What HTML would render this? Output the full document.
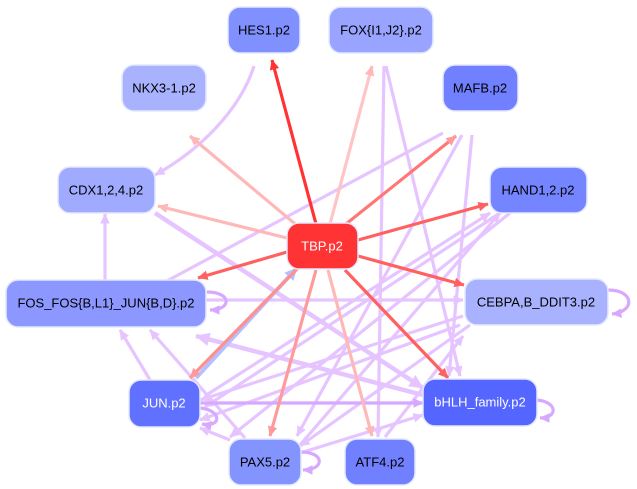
<!DOCTYPE html>
<html><head><style>
html,body{margin:0;padding:0;background:#fff;width:637px;height:489px;overflow:hidden}
svg{display:block}
text{font-family:"Liberation Sans",sans-serif;font-size:13px;text-anchor:middle;dominant-baseline:central}
</style></head><body>
<svg width="637" height="489" viewBox="0 0 637 489">
<defs>
<marker id="r1" markerWidth="3.2" markerHeight="3" refX="3" refY="1.5" orient="auto" markerUnits="strokeWidth"><path d="M0,0L3.2,1.5L0,3z" fill="#ff3333"/></marker>
<marker id="r2" markerWidth="3.2" markerHeight="3" refX="3" refY="1.5" orient="auto" markerUnits="strokeWidth"><path d="M0,0L3.2,1.5L0,3z" fill="#ff6060"/></marker>
<marker id="r3" markerWidth="3.2" markerHeight="3" refX="3" refY="1.5" orient="auto" markerUnits="strokeWidth"><path d="M0,0L3.2,1.5L0,3z" fill="#ff9a9a"/></marker>
<marker id="r4" markerWidth="3.2" markerHeight="3" refX="3" refY="1.5" orient="auto" markerUnits="strokeWidth"><path d="M0,0L3.2,1.5L0,3z" fill="#ffb8b8"/></marker>
<marker id="p1" markerWidth="3.2" markerHeight="3" refX="3" refY="1.5" orient="auto" markerUnits="strokeWidth"><path d="M0,0L3.2,1.5L0,3z" fill="#e6c4ff"/></marker>
<marker id="p2" markerWidth="3.2" markerHeight="3" refX="3" refY="1.5" orient="auto" markerUnits="strokeWidth"><path d="M0,0L3.2,1.5L0,3z" fill="#d8a8ff"/></marker>
<marker id="b1" markerWidth="3.2" markerHeight="3" refX="3" refY="1.5" orient="auto" markerUnits="strokeWidth"><path d="M0,0L3.2,1.5L0,3z" fill="#b4c0ff"/></marker>
</defs>
<g fill="none" stroke-width="3.2">
<g stroke="#e6c4ff" marker-end="url(#p1)">
<path d="M254,66 C240,110 200,150 155,175"/>
<path d="M443,133 L150,290"/>
<path d="M462,135 L297,436"/>
<path d="M472,135 L449,376"/>
<path d="M384,66 L378,437"/>
<path d="M386,66 L460,376"/>
<path d="M510,213 L230,437"/>
<path d="M500,213 L205,407"/>
<path d="M105,280 L105,214"/>
<path d="M206,300 L463,300"/>
<path d="M423,395 L196,336" stroke-width="4.5"/>
<path d="M155,213 L423,388" stroke-width="4.5"/>
<path d="M463,316 L200,400"/>
<path d="M470,325 L300,446"/>
<path d="M385,437 L463,336"/>
<path d="M150,380 L120,330"/>
<path d="M245,438 L150,330"/>
<path d="M230,440 L200,428"/>
<path d="M300,453 L423,415"/>
<path d="M300,445 L500,213"/>
<path d="M205,396 L490,213"/>
<path d="M460,325 L200,420"/>
</g>
<g stroke="#d8a8ff" marker-end="url(#p2)">
<path d="M200,403 L423,403"/>
<path d="M207,292 C232,292 232,310 210,310"/>
<path d="M608,290 C635,290 635,312 612,314"/>
<path d="M200,408 C222,410 222,428 202,424"/>
<path d="M537,400 C558,402 558,418 540,418"/>
<path d="M301,452 C325,452 325,470 303,470"/>
</g>
<path d="M196,378 L297,268" stroke="#b4c0ff" marker-end="url(#b1)" stroke-width="4"/>
<path d="M316,224 L272,60" stroke="#ff3333" marker-end="url(#r1)"/>
<path d="M300,228 L190,136" stroke="#ffb8b8" marker-end="url(#r4)"/>
<path d="M287,238 L158,206" stroke="#ffb8b8" marker-end="url(#r4)"/>
<path d="M330,224 L372,66" stroke="#ffc4c4" marker-end="url(#r4)"/>
<path d="M346,224 L456,136" stroke="#ff7878" marker-end="url(#r3)"/>
<path d="M358,240 L488,204" stroke="#ff6060" marker-end="url(#r2)"/>
<path d="M287,252 L198,278" stroke="#ff6060" marker-end="url(#r2)"/>
<path d="M358,256 L464,285" stroke="#ff6060" marker-end="url(#r2)"/>
<path d="M345,270 L448,378" stroke="#ff6060" marker-end="url(#r2)"/>
<path d="M298,268 L190,378" stroke="#ff9090" marker-end="url(#r3)"/>
<path d="M316,270 L270,436" stroke="#ff9a9a" marker-end="url(#r3)"/>
<path d="M328,270 L372,436" stroke="#ffb8b8" marker-end="url(#r4)"/>
</g>
<g stroke="#e4e8ff" stroke-width="1.5">
<rect x="228" y="7" width="72" height="46" rx="12" fill="#8090ff"/>
<rect x="329" y="7" width="104" height="46" rx="12" fill="#98a4ff"/>
<rect x="122" y="65" width="84" height="46" rx="12" fill="#a8b2ff"/>
<rect x="443" y="65" width="75" height="46" rx="12" fill="#7080ff"/>
<rect x="58" y="167" width="97" height="46" rx="12" fill="#a0aaff"/>
<rect x="490" y="167" width="97" height="46" rx="12" fill="#7585ff"/>
<rect x="287" y="223" width="71" height="46" rx="12" fill="#ff3333"/>
<rect x="6" y="280" width="200" height="47" rx="12" fill="#8c98ff"/>
<rect x="465" y="279" width="143" height="46" rx="12" fill="#a8b2ff"/>
<rect x="129" y="380" width="71" height="47" rx="12" fill="#6070ff"/>
<rect x="423" y="379" width="114" height="47" rx="12" fill="#5565ff"/>
<rect x="229" y="439" width="72" height="46" rx="12" fill="#8494ff"/>
<rect x="345" y="439" width="70" height="46" rx="12" fill="#7080ff"/>
</g>
<text x="264" y="30">HES1.p2</text>
<text x="381" y="30">FOX{I1,J2}.p2</text>
<text x="164" y="88">NKX3-1.p2</text>
<text x="480" y="88">MAFB.p2</text>
<text x="106" y="190">CDX1,2,4.p2</text>
<text x="538" y="190">HAND1,2.p2</text>
<text x="322" y="246" fill="#fff">TBP.p2</text>
<text x="106" y="303">FOS_FOS{B,L1}_JUN{B,D}.p2</text>
<text x="536" y="302">CEBPA,B_DDIT3.p2</text>
<text x="164" y="403" fill="#fff">JUN.p2</text>
<text x="480" y="402" fill="#fff">bHLH_family.p2</text>
<text x="265" y="462">PAX5.p2</text>
<text x="380" y="462">ATF4.p2</text>
</svg>
</body></html>
